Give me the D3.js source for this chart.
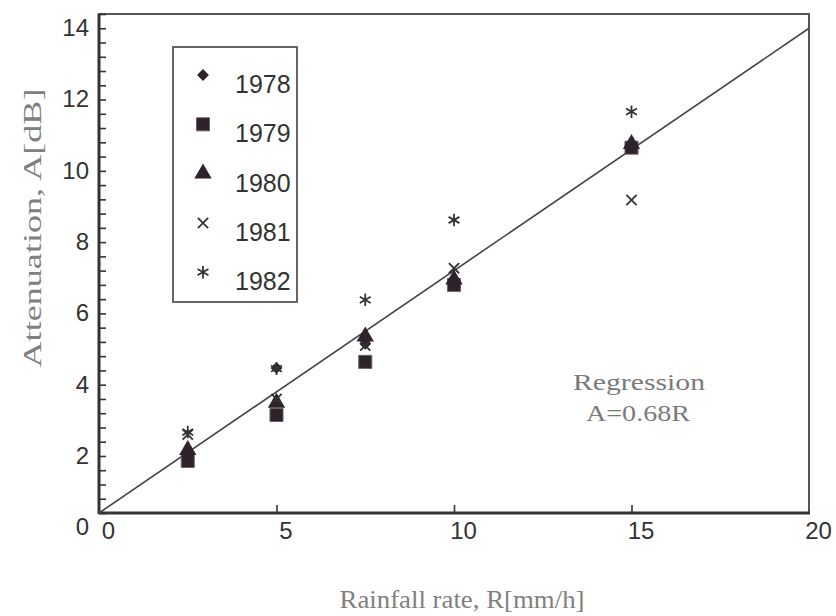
<!DOCTYPE html>
<html>
<head>
<meta charset="utf-8">
<script src="https://cdn.jsdelivr.net/npm/d3@7"></script>
<style>
  body { margin: 0; background: #fff; }
  svg { display: block; }
</style>
</head>
<body>
<script>
const w = 836;
const h = 616;

// data
const rates = [2.5, 5, 7.5, 10, 15];
const years = ['1978', '1979', '1980', '1981', '1982'];
const att1978 = [1.7, 4.07, 4.75, 6.5, 10.3];
const att1979 = [1.46, 2.75, 4.24, 6.4, 10.25];
const att1980 = [1.77, 3.09, 4.95, 6.55, 10.35];
const att1981 = [2.2, 3.2, 4.7, 6.87, 8.78];
const att1982 = [2.27, 4.05, 5.98, 8.22, 11.26];
const slope = 0.68;
const xTicks = [0, 5, 10, 15, 20];
const yTicks = [0, 2, 4, 6, 8, 10, 12, 14];

const series = [att1978, att1979, att1980, att1981, att1982];

const plot = { left: 99, right: 809, top: 14, bottom: 513 };
const sansFont = '"Liberation Sans", Arial, sans-serif';
const serifFont = '"Liberation Serif", "Times New Roman", serif';

const svg = d3.select('body').append('svg')
  .attr('width', w)
  .attr('height', h);

const x = d3.scaleLinear().domain([0, 20]).range([plot.left, plot.right]);
const y = d3.scaleLinear().domain([0, 14]).range([plot.bottom, plot.top]);

// marker shapes per year
const shapes = [
  { type: d3.symbolDiamond2, size: 90, filled: true },
  { type: d3.symbolSquare, size: 170, filled: true },
  { type: d3.symbolTriangle, size: 130, filled: true },
  { type: d3.symbolTimes, size: 70, filled: false },
  { type: d3.symbolAsterisk, size: 110, filled: false }
];
const markColor = '#2e232b';

function drawMark(sel, i) {
  const s = shapes[i];
  sel.attr('d', d3.symbol().type(s.type).size(s.size)())
    .attr('fill', s.filled ? markColor : 'none')
    .attr('stroke', s.filled ? (i == 1 ? '#6a5f66' : 'none') : '#333')
    .attr('stroke-width', s.filled ? 1 : 1.8);
}

// frame
svg.append('rect')
  .attr('x', plot.left)
  .attr('y', plot.top)
  .attr('width', plot.right - plot.left)
  .attr('height', plot.bottom - plot.top)
  .attr('fill', 'none')
  .attr('stroke', '#555')
  .attr('stroke-width', 2);

// y minor/major ticks (inward)
const yAxisTicks = svg.append('g')
  .attr('transform', `translate(${plot.left},0)`)
  .call(d3.axisRight(y).tickValues(d3.range(0, 14.01, 0.4)).tickSize(7).tickFormat(''));
yAxisTicks.select('.domain').remove();
yAxisTicks.selectAll('line').attr('stroke', '#333').attr('stroke-width', 1.6);

// y labels
const yLabels = svg.append('g')
  .attr('transform', `translate(${plot.left},0)`)
  .call(d3.axisLeft(y).tickValues(yTicks).tickSize(0).tickPadding(10));
yLabels.select('.domain').remove();
yLabels.selectAll('text')
  .attr('transform', 'translate(0,14)')
  .style('font-family', sansFont)
  .style('font-size', '24px')
  .attr('fill', '#333');

// x ticks (inward)
const xAxisTicks = svg.append('g')
  .attr('transform', `translate(0,${plot.bottom})`)
  .call(d3.axisTop(x).tickValues([5, 10, 15]).tickSize(8).tickFormat(''));
xAxisTicks.select('.domain').remove();
xAxisTicks.selectAll('line').attr('stroke', '#333').attr('stroke-width', 1.6);

// x labels
const xLabels = svg.append('g')
  .attr('transform', `translate(0,${plot.bottom})`)
  .call(d3.axisBottom(x).tickValues(xTicks).tickSize(0).tickPadding(9));
xLabels.select('.domain').remove();
xLabels.selectAll('text')
  .attr('transform', 'translate(9,0)')
  .style('font-family', sansFont)
  .style('font-size', '24px')
  .attr('fill', '#333');

// heavier left and bottom axis lines
svg.append('line')
  .attr('x1', plot.left).attr('x2', plot.left)
  .attr('y1', plot.top).attr('y2', plot.bottom + 1)
  .attr('stroke', '#333').attr('stroke-width', 3);
svg.append('line')
  .attr('x1', plot.left).attr('x2', plot.right + 1)
  .attr('y1', plot.bottom).attr('y2', plot.bottom)
  .attr('stroke', '#333').attr('stroke-width', 3);

// regression line
svg.append('line')
  .attr('x1', x(0)).attr('y1', y(0))
  .attr('x2', x(20)).attr('y2', y(slope * 20))
  .attr('stroke', '#444')
  .attr('stroke-width', 1.6);

// data points
series.forEach((vals, i) => {
  svg.append('g')
    .selectAll('path')
    .data(vals)
    .enter()
    .append('path')
    .attr('transform', (d, j) => `translate(${x(rates[j])},${y(d)})`)
    .call(drawMark, i);
});

// legend
const legend = svg.append('g');
legend.append('rect')
  .attr('x', 173).attr('y', 47)
  .attr('width', 124).attr('height', 255)
  .attr('fill', '#fff')
  .attr('stroke', '#666')
  .attr('stroke-width', 2);
years.forEach((yr, i) => {
  const base = 93 + i * 49.3;
  legend.append('path')
    .attr('transform', `translate(203,${base - 18})`)
    .call(drawMark, i);
  legend.append('text')
    .attr('x', 235)
    .attr('y', base)
    .style('font-family', sansFont)
    .style('font-size', '25px')
    .attr('fill', '#333')
    .text(yr);
});

// regression note
svg.append('text')
  .attr('x', 639).attr('y', 390)
  .attr('text-anchor', 'middle')
  .attr('textLength', 132).attr('lengthAdjust', 'spacingAndGlyphs')
  .style('font-family', serifFont).style('font-size', '24px')
  .attr('fill', '#7a7a7a')
  .text('Regression');
svg.append('text')
  .attr('x', 638).attr('y', 421)
  .attr('text-anchor', 'middle')
  .attr('textLength', 104).attr('lengthAdjust', 'spacingAndGlyphs')
  .style('font-family', serifFont).style('font-size', '24px')
  .attr('fill', '#7a7a7a')
  .text('A=0.68R');

// axis titles
svg.append('text')
  .attr('x', 462).attr('y', 608)
  .attr('text-anchor', 'middle')
  .attr('textLength', 245).attr('lengthAdjust', 'spacingAndGlyphs')
  .style('font-family', serifFont).style('font-size', '25px')
  .attr('fill', '#808080')
  .text('Rainfall rate, R[mm/h]');
svg.append('text')
  .attr('transform', 'translate(41,228) rotate(-90)')
  .attr('text-anchor', 'middle')
  .attr('textLength', 279).attr('lengthAdjust', 'spacingAndGlyphs')
  .style('font-family', serifFont).style('font-size', '26px')
  .attr('fill', '#808080')
  .text('Attenuation, A[dB]');
</script>
</body>
</html>
